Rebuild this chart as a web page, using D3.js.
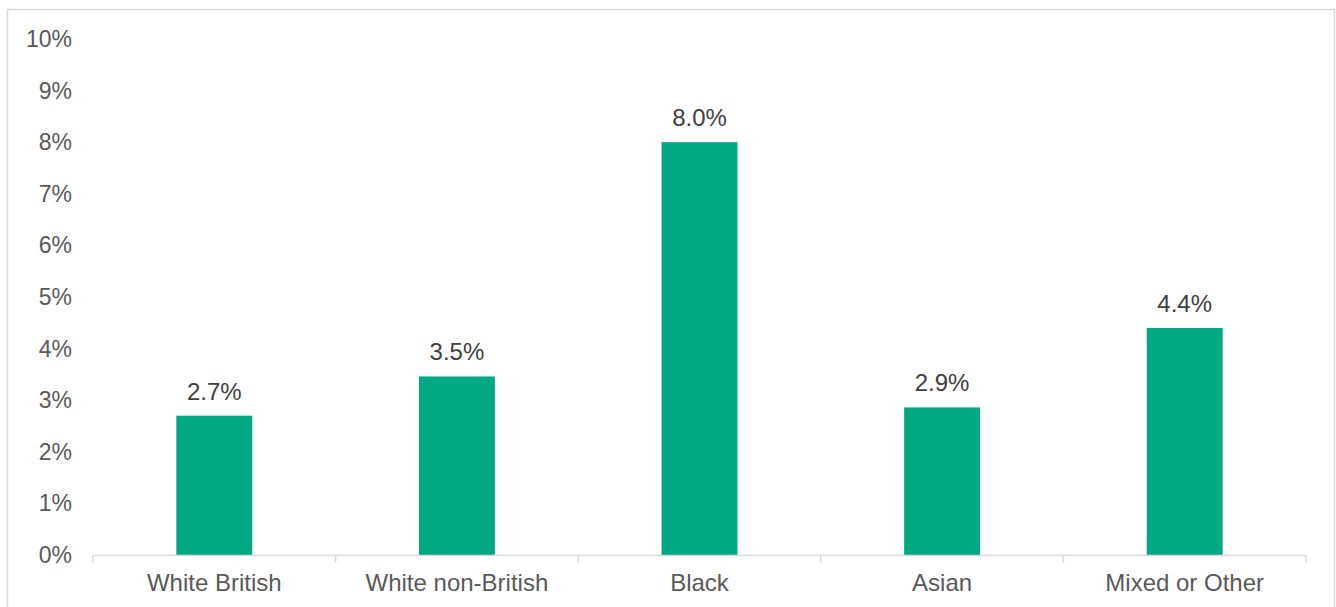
<!DOCTYPE html>
<html>
<head>
<meta charset="utf-8">
<script src="https://cdn.jsdelivr.net/npm/d3@7"></script>
<style>
  body { margin: 0; background: #fff; }
  svg { display: block; font-family: "Liberation Sans", Arial, sans-serif; }
</style>
</head>
<body>
<script>
//wrap everything in anon function
(function(){
    //chart data
    var categories = ["White British", "White non-British", "Black", "Asian", "Mixed or Other"];
    var values = [2.7, 3.46, 8.0, 2.86, 4.4];
    var yTicks = [0, 1, 2, 3, 4, 5, 6, 7, 8, 9, 10];

    var width = 1336,
        height = 607;

    var svg = d3.select("body")
        .append("svg")
        .attr("width", width)
        .attr("height", height);

    //chart frame (runs past the bottom of the picture)
    svg.append("rect")
        .attr("x", 7.5)
        .attr("y", 9.5)
        .attr("width", 1327)
        .attr("height", 700)
        .attr("fill", "none")
        .attr("stroke", "#d9d9d9")
        .attr("stroke-width", 1.5);

    //scales
    var x = d3.scaleBand()
        .domain(categories)
        .range([93, 1306]);

    var y = d3.scaleLinear()
        .domain([0, 10])
        .range([555, 39]);

    var barWidth = x.bandwidth() * 0.313;

    //y axis labels
    svg.selectAll(".ylab")
        .data(yTicks)
        .enter()
        .append("text")
        .attr("class", "ylab")
        .attr("x", 72)
        .attr("y", function(d){ return y(d); })
        .attr("dy", "0.35em")
        .attr("text-anchor", "end")
        .attr("font-size", 23)
        .attr("fill", "#595959")
        .text(function(d){ return d + "%"; });

    //bars
    svg.selectAll(".bar")
        .data(values)
        .enter()
        .append("rect")
        .attr("class", "bar")
        .attr("x", function(d, i){ return x(categories[i]) + (x.bandwidth() - barWidth) / 2; })
        .attr("y", function(d){ return y(d); })
        .attr("width", barWidth)
        .attr("height", function(d){ return y(0) - y(d); })
        .attr("fill", "#00a982");

    //data labels
    svg.selectAll(".vlab")
        .data(values)
        .enter()
        .append("text")
        .attr("class", "vlab")
        .attr("x", function(d, i){ return x(categories[i]) + x.bandwidth() / 2; })
        .attr("y", function(d){ return y(d) - 16; })
        .attr("text-anchor", "middle")
        .attr("font-size", 24)
        .attr("fill", "#404040")
        .text(function(d){ return d3.format(".1f")(d) + "%"; });

    //x axis with ticks between categories
    var xAxis = svg.append("g")
        .attr("transform", "translate(0," + (y(0) + 0.5) + ")");

    xAxis.append("line")
        .attr("x1", x.range()[0])
        .attr("x2", x.range()[1])
        .attr("stroke", "#d9d9d9")
        .attr("stroke-width", 1.5);

    var bounds = categories.map(function(c){ return x(c); }).concat([x.range()[1]]);
    xAxis.selectAll(".tick")
        .data(bounds)
        .enter()
        .append("line")
        .attr("x1", function(d){ return d; })
        .attr("x2", function(d){ return d; })
        .attr("y1", 0)
        .attr("y2", 7)
        .attr("stroke", "#d9d9d9")
        .attr("stroke-width", 1.5);

    xAxis.selectAll(".xlab")
        .data(categories)
        .enter()
        .append("text")
        .attr("class", "xlab")
        .attr("x", function(d){ return x(d) + x.bandwidth() / 2; })
        .attr("y", 35)
        .attr("text-anchor", "middle")
        .attr("font-size", 24)
        .attr("fill", "#595959")
        .text(function(d){ return d; });
})();
</script>
</body>
</html>
